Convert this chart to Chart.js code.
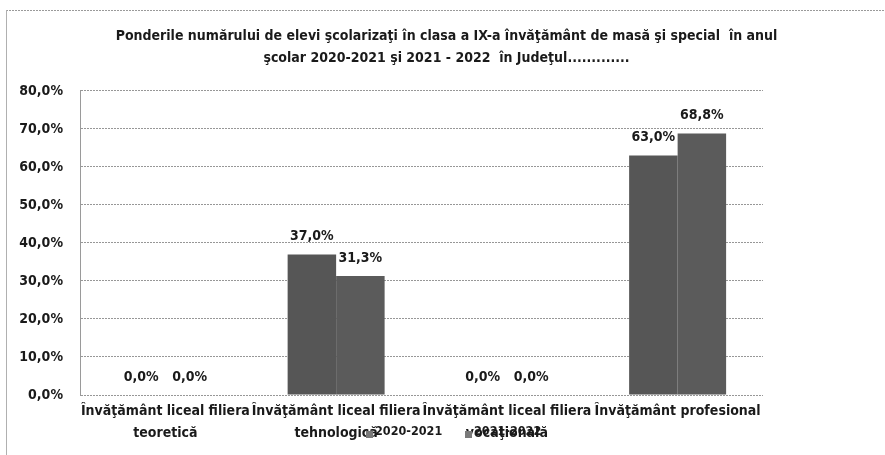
<!DOCTYPE html>
<html>
<head>
<meta charset="utf-8">
<script src="https://cdn.jsdelivr.net/npm/chart.js@4/dist/chart.umd.min.js"></script>
<style>
  html, body { margin: 0; padding: 0; background: #ffffff; }
  #wrap { position: absolute; left: 0; top: 0; width: 885px; height: 455px; }
</style>
</head>
<body>
<div id="wrap"><canvas id="c" width="885" height="455"></canvas></div>
<script>
// ---- data ----
const categories = [
  ["Învăţământ liceal filiera", "teoretică"],
  ["Învăţământ liceal filiera", "tehnologică"],
  ["Învăţământ liceal filiera", "vocaţională"],
  ["Învăţământ profesional"]
];
const seriesNames = ["2020-2021", "2021-2022"];
const values2020 = [0.0, 37.0, 0.0, 63.0];
const values2021 = [0.0, 31.3, 0.0, 68.8];
const yTickLabels = ["0,0%", "10,0%", "20,0%", "30,0%", "40,0%", "50,0%", "60,0%", "70,0%", "80,0%"];
const titleLines = [
  "Ponderile numărului de elevi şcolarizaţi în clasa a IX-a învăţământ de masă şi special  în anul",
  "şcolar 2020-2021 şi 2021 - 2022  în Judeţul............."
];

const FONT = "'Liberation Sans Narrow', 'Arial Narrow', 'DejaVu Sans Condensed', sans-serif";
const fmt = v => v.toFixed(1).replace('.', ',') + '%';

const framePlugin = {
  id: 'frame',
  beforeDraw(chart) {
    const ctx = chart.ctx;
    ctx.save();
    ctx.strokeStyle = '#9a9a9a';
    ctx.lineWidth = 1;
    ctx.setLineDash([2, 1]);
    ctx.beginPath();
    ctx.moveTo(6, 10.5); ctx.lineTo(885, 10.5);
    ctx.stroke();
    ctx.setLineDash([]);
    ctx.strokeStyle = '#b0b0b0';
    ctx.beginPath();
    ctx.moveTo(6.5, 10); ctx.lineTo(6.5, 455);
    ctx.stroke();
    ctx.restore();
  }
};

const titleShift = {
  id: 'titleShift',
  afterLayout(chart) {
    const t = chart.titleBlock;
    if (t) { t.left += 4; t.right += 4; }
  }
};

const dataLabels = {
  id: 'dataLabels',
  afterDatasetsDraw(chart) {
    const ctx = chart.ctx;
    ctx.save();
    ctx.font = 'bold 14px ' + FONT;
    ctx.fillStyle = '#1a1a1a';
    ctx.textAlign = 'center';
    ctx.textBaseline = 'middle';
    chart.data.datasets.forEach((ds, di) => {
      const meta = chart.getDatasetMeta(di);
      meta.data.forEach((el, i) => {
        ctx.fillText(fmt(ds.data[i]), el.x, el.y - 18);
      });
    });
    ctx.restore();
  }
};

const customLegend = {
  id: 'customLegend',
  afterDraw(chart) {
    const ctx = chart.ctx;
    const starts = [366, 465];
    const y = 432;
    ctx.save();
    ctx.font = 'bold 12.5px ' + FONT;
    ctx.textBaseline = 'middle';
    ctx.textAlign = 'left';
    chart.data.datasets.forEach((ds, i) => {
      const x = starts[i];
      ctx.fillStyle = '#7a7a7a';
      ctx.fillRect(x, y - 1, 7, 7);
      ctx.fillStyle = '#1a1a1a';
      ctx.fillText(ds.label, x + 9, y);
    });
    ctx.restore();
  }
};

new Chart(document.getElementById('c'), {
  type: 'bar',
  data: {
    labels: categories,
    datasets: [
      { label: seriesNames[0], data: values2020, backgroundColor: '#565656', borderWidth: 0 },
      { label: seriesNames[1], data: values2021, backgroundColor: '#5b5b5b', borderWidth: 0 }
    ]
  },
  options: {
    responsive: false,
    animation: false,
    devicePixelRatio: 1,
    layout: { padding: 0 },
    datasets: { bar: { categoryPercentage: 0.568, barPercentage: 1.0 } },
    plugins: {
      legend: { display: false },
      tooltip: { enabled: false },
      title: {
        display: true,
        text: titleLines,
        color: '#1a1a1a',
        font: { family: FONT, size: 14, weight: 'bold', lineHeight: 1.571 },
        padding: { top: 25, bottom: 22 }
      }
    },
    scales: {
      x: {
        grid: { display: false, drawTicks: false },
        border: { display: false },
        ticks: {
          autoSkip: false, maxRotation: 0, minRotation: 0,
          color: '#1a1a1a', padding: 5,
          font: { family: FONT, size: 14, weight: 'bold', lineHeight: 1.571 }
        },
        afterFit(s) { s.height = 60; }
      },
      y: {
        min: 0, max: 80,
        ticks: {
          stepSize: 10,
          color: '#1a1a1a', padding: 17,
          font: { family: FONT, size: 14, weight: 'bold' },
          callback: (v, i) => yTickLabels[i]
        },
        grid: { color: '#979797', lineWidth: 1, drawTicks: false, tickLength: 0 },
        border: { display: true, color: '#9a9a9a', width: 1, dash: [2, 1] },
        afterFit(s) { s.width = 80; }
      },
      yr: {
        position: 'right',
        display: true,
        grid: { display: false },
        border: { display: false },
        ticks: { display: false },
        afterFit(s) { s.width = 122; }
      }
    }
  },
  plugins: [framePlugin, titleShift, dataLabels, customLegend]
});
</script>
</body>
</html>
